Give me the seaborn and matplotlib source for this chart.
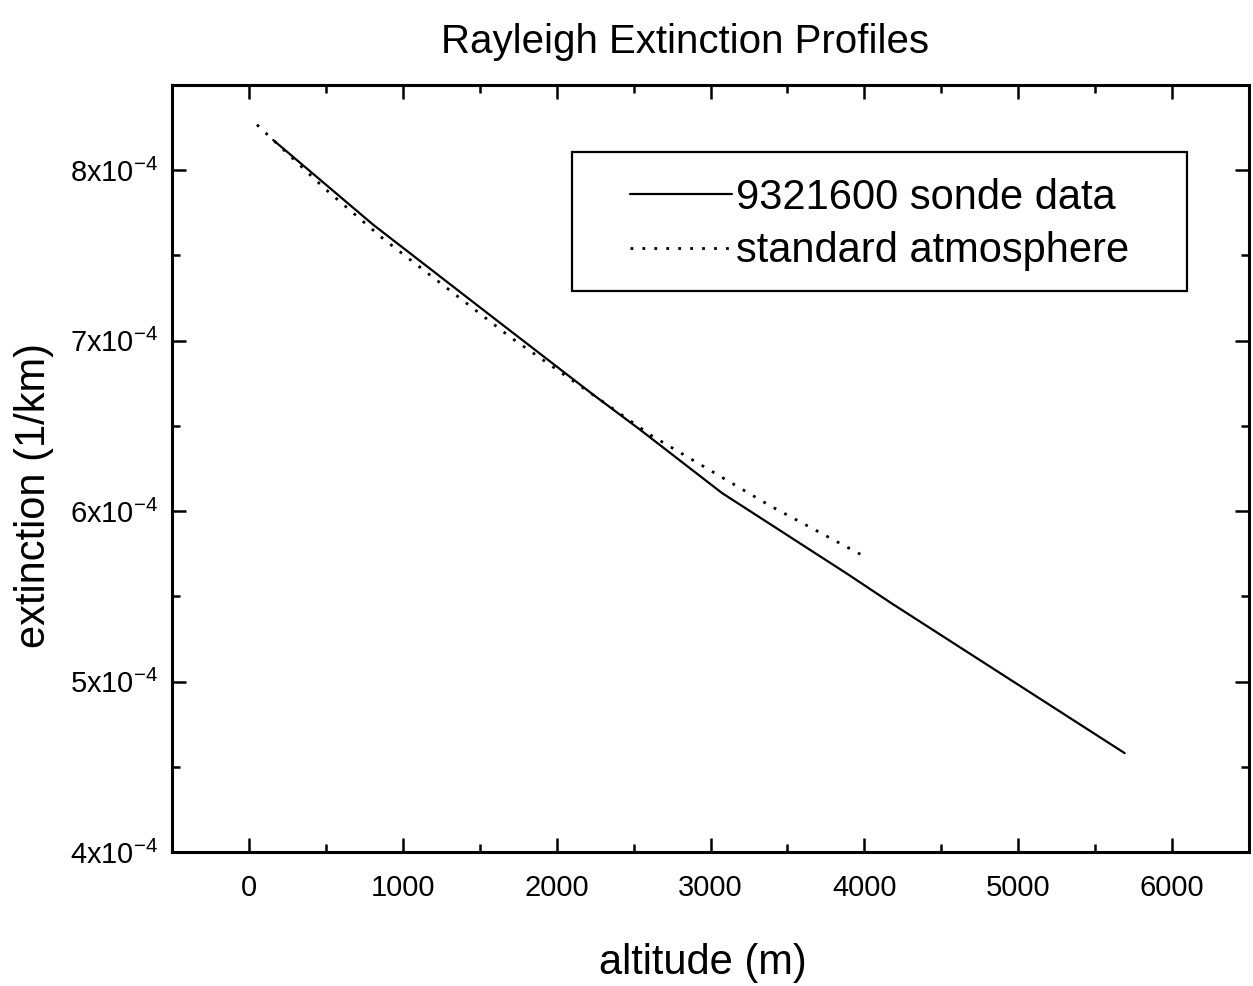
import numpy as np
import pandas as pd
import matplotlib
matplotlib.use("Agg")
import matplotlib.pyplot as plt
import seaborn as sns
from matplotlib.patches import Rectangle
from matplotlib.ticker import MultipleLocator, FixedLocator, FixedFormatter

# ---- data ----
sonde_alt = [158, 808, 1581, 2242, 2539, 3075, 3892, 4175, 5692]
sonde_ext = [8.177e-4, 7.68e-4, 7.14e-4, 6.68e-4, 6.48e-4, 6.106e-4, 5.63e-4, 5.46e-4, 4.58e-4]
std_alt = [52, 497, 875, 1700, 2618, 3382, 3994]
std_ext = [8.267e-4, 7.889e-4, 7.596e-4, 7.02e-4, 6.442e-4, 6.034e-4, 5.737e-4]
series_labels = ["9321600 sonde data", "standard atmosphere"]
x_ticks = [0, 1000, 2000, 3000, 4000, 5000, 6000]
y_ticks = [4e-4, 5e-4, 6e-4, 7e-4, 8e-4]
y_tick_labels = [r"$\mathregular{4x10^{-4}}$", r"$\mathregular{5x10^{-4}}$", r"$\mathregular{6x10^{-4}}$",
                 r"$\mathregular{7x10^{-4}}$", r"$\mathregular{8x10^{-4}}$"]

sns.set_theme(style="ticks")
plt.rcParams['font.family'] = ['Liberation Sans', 'DejaVu Sans']
plt.rcParams['mathtext.fontset'] = 'custom'
plt.rcParams['mathtext.rm'] = 'Liberation Sans'
plt.rcParams['text.color'] = 'black'
plt.rcParams['axes.labelcolor'] = 'black'
plt.rcParams['xtick.color'] = 'black'
plt.rcParams['ytick.color'] = 'black'

df1 = pd.DataFrame({"alt": sonde_alt, "ext": sonde_ext})
df2 = pd.DataFrame({"alt": std_alt, "ext": std_ext})

fig = plt.figure(figsize=(12.53, 9.86), dpi=100)
L, R, T, B = 172, 1249, 85, 852
W, H = 1253, 986
ax = fig.add_axes([L / W, 1 - B / H, (R - L) / W, (B - T) / H])


def ax_x(px):
    return (px - L) / (R - L)


def ax_y(py):
    return (B - py) / (B - T)


sns.lineplot(data=df1, x="alt", y="ext", ax=ax, color="black", lw=1.6,
             sort=False, estimator=None, label=series_labels[0])
sns.lineplot(data=df2, x="alt", y="ext", ax=ax, color="black", lw=2.0,
             linestyle=(0, (1, 3.3)), sort=False, estimator=None, label=series_labels[1])

ax.set_xlim(-500, 6500)
ax.set_ylim(4e-4, 8.5e-4)
ax.xaxis.set_major_locator(FixedLocator(x_ticks))
ax.xaxis.set_minor_locator(MultipleLocator(500))
ax.yaxis.set_major_locator(FixedLocator(y_ticks))
ax.yaxis.set_major_formatter(FixedFormatter(y_tick_labels))
ax.yaxis.set_minor_locator(MultipleLocator(0.5e-4))

ax.tick_params(which="both", direction="in", top=True, right=True, width=1.8, color="black")
ax.tick_params(which="major", length=10)
ax.tick_params(which="minor", length=6)
ax.tick_params(axis="x", which="major", labelsize=21, pad=16, labelcolor="black")
ax.tick_params(axis="y", which="major", labelsize=21, pad=10, labelcolor="black")
for s in ax.spines.values():
    s.set_linewidth(2.2)
    s.set_color("black")
    s.set_visible(True)

ax.set_xlabel("altitude (m)", fontsize=30, color="black")
ax.xaxis.set_label_coords(ax_x(703), ax_y(943))
ax.xaxis.label.set_va("top")
ax.set_ylabel("extinction (1/km)", fontsize=30, color="black")
ax.yaxis.set_label_coords(ax_x(54), ax_y(495))

fig.text(685 / W, 1 - 42 / H, "Rayleigh Extinction Profiles", fontsize=29,
         ha="center", va="center", color="black")

# legend (frame drawn as a separate rectangle to get the wide side margins)
leg = ax.legend(loc="upper left", bbox_to_anchor=(ax_x(630), ax_y(178)),
                fontsize=30, frameon=False,
                handlelength=2.45, handletextpad=0.1, borderpad=0.0, labelspacing=0.32,
                borderaxespad=0)
for t in leg.get_texts():
    t.set_color("black")
ax.add_patch(Rectangle((ax_x(572), ax_y(291)), ax_x(1187) - ax_x(572), ax_y(152) - ax_y(291),
                       transform=ax.transAxes, fill=False, edgecolor="black", lw=1.6, zorder=4))

fig.savefig("out.png", dpi=100, facecolor="white")
